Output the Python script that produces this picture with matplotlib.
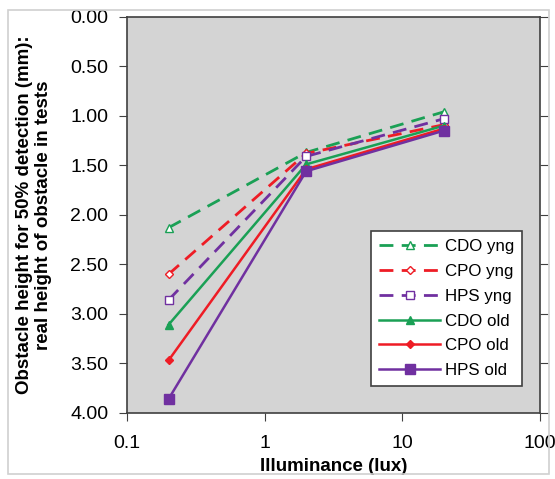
import matplotlib.pyplot as plt
from matplotlib.patches import Rectangle

plt.rcParams['font.family'] = ['Liberation Sans', 'DejaVu Sans']

illuminance = [0.2, 2, 20]
series_names = ['CDO yng', 'CPO yng', 'HPS yng', 'CDO old', 'CPO old', 'HPS old']
cdo_yng = [2.13, 1.37, 0.96]
cpo_yng = [2.60, 1.38, 1.09]
hps_yng = [2.86, 1.41, 1.03]
cdo_old = [3.11, 1.49, 1.10]
cpo_old = [3.47, 1.54, 1.13]
hps_old = [3.86, 1.56, 1.15]
y_ticks = [0.0, 0.5, 1.0, 1.5, 2.0, 2.5, 3.0, 3.5, 4.0]
x_ticks = [0.1, 1, 10, 100]
x_tick_labels = ['0.1', '1', '10', '100']

green = '#1aa055'
red = '#ee1c25'
purple = '#7030a0'

fig = plt.figure(figsize=(5.55, 4.79), dpi=100)
fig.patches.append(Rectangle((0.015, 0.01), 0.975, 0.97, transform=fig.transFigure,
                             fill=False, edgecolor='#d0d0d0', lw=1.2))
ax = fig.add_axes([0.229, 0.138, 0.744, 0.827])
ax.set_facecolor('#d4d4d4')

# (values, colour, dashed?, marker, face colour, marker size)
styles = [
    (cdo_yng, green, True, '^', 'white', 5.5),
    (cpo_yng, red, True, 'D', 'white', 4.5),
    (hps_yng, purple, True, 's', 'white', 6),
    (cdo_old, green, False, '^', green, 5.5),
    (cpo_old, red, False, 'D', red, 4.5),
    (hps_old, purple, False, 's', purple, 6.5),
]
for (vals, c, dashed, mk, fc, ms), name in zip(styles, series_names):
    line, = ax.plot(illuminance, vals, color=c, lw=2 if dashed else 1.8,
                    marker=mk, ms=ms, mfc=fc, mec=c, label=name)
    if dashed:
        line.set_dashes((5, 3))

ax.set_xscale('log')
ax.set_xlim(0.1, 100)
ax.set_ylim(4.0, 0.0)
ax.set_yticks(y_ticks)
ax.set_yticklabels(['%.2f' % v for v in y_ticks])
ax.set_xticks(x_ticks)
ax.set_xticklabels(x_tick_labels)
ax.minorticks_off()
ax.tick_params(axis='both', labelsize=14, direction='out', length=6, color='#404040')
ax.tick_params(axis='y', right=True, pad=7.5)
ax.tick_params(axis='x', pad=10)
for s in ax.spines.values():
    s.set_color('#404040')
    s.set_linewidth(1.2)

ax.set_xlabel('Illuminance (lux)', fontsize=13.5, fontweight='bold', labelpad=4)
ax.set_ylabel('Obstacle height for 50% detection (mm):\nreal height of obstacle in tests',
              fontsize=13.5, fontweight='bold', labelpad=13, linespacing=1.15)

leg = ax.legend(loc='lower right', bbox_to_anchor=(0.977, 0.047), fontsize=12.2,
                frameon=True, fancybox=False, edgecolor='#404040', framealpha=1,
                handlelength=3.6, handletextpad=0.3, labelspacing=0.58,
                borderpad=0.45)
leg.get_frame().set_linewidth(1.2)

fig.savefig('out.png', dpi=100)
